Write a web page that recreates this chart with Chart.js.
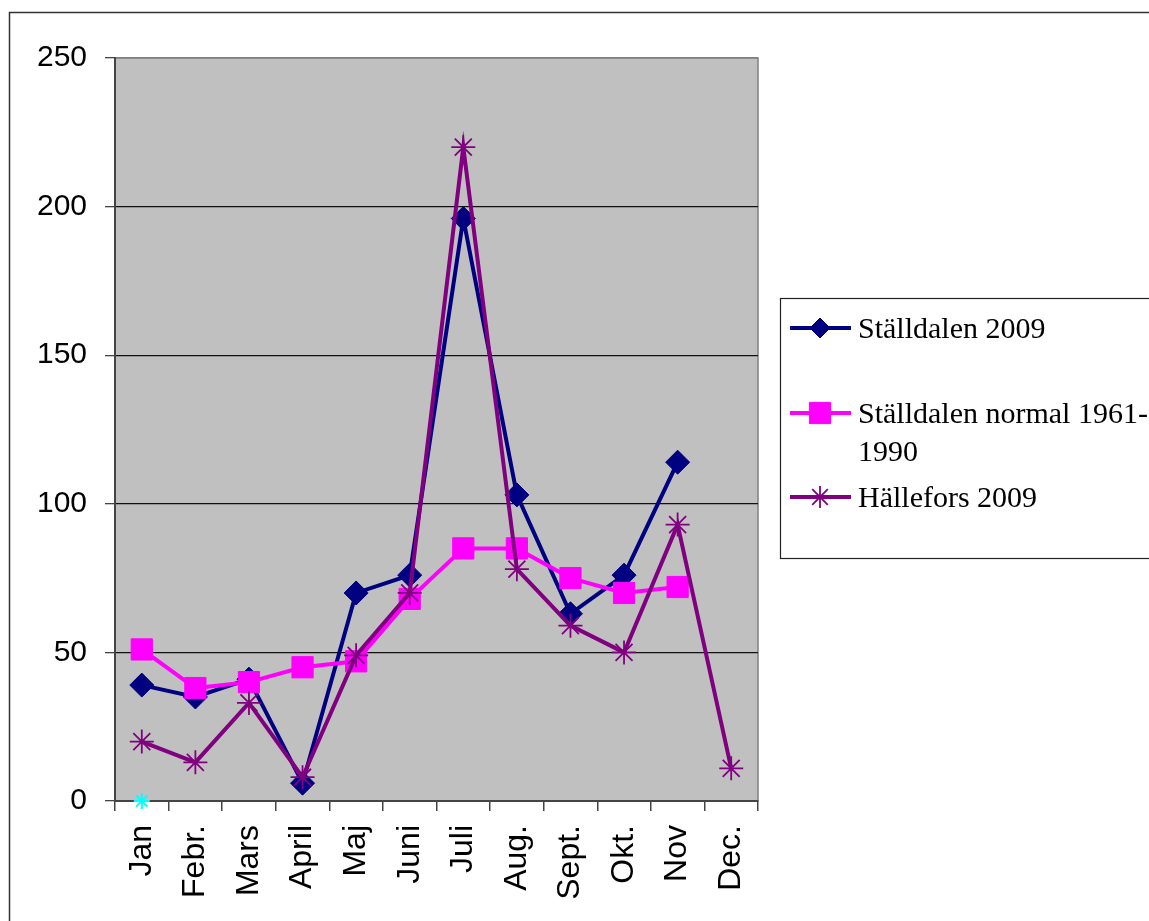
<!DOCTYPE html>
<html lang="sv">
<head>
<meta charset="UTF-8">
<title>Nederbörd 2009</title>
<script src="https://cdn.jsdelivr.net/npm/chart.js"></script>
<style>
  body { margin: 0; background: #fff; }
  #wrap { position: relative; width: 1149px; height: 921px; }
</style>
</head>
<body>
<div id="wrap"><canvas id="myChart"></canvas></div>
<script>
// manader
const months = ['Jan', 'Febr.', 'Mars', 'April', 'Maj', 'Juni', 'Juli', 'Aug.', 'Sept.', 'Okt.', 'Nov', 'Dec.'];

// nederbord (mm), avlast fran bilden
const stalldalen2009 = [39, 35, 41, 6, 70, 76, 196, 103, 63, 76, 114, null];
const stalldalenNormal = [51, 38, 40, 45, 47, 68, 85, 85, 75, 70, 72, null];
const hallefors2009 = [20, 13, 33, 8, 49, 70, 220, 78, 59, 50, 93, 11];
const extraSerie = [0, null, null, null, null, null, null, null, null, null, null, null];

const yTicks = [0, 50, 100, 150, 200, 250];

// grå plotyta + ram runt hela diagrammet
const bakgrund = {
  id: 'bakgrund',
  beforeDraw(chart) {
    const ctx = chart.ctx, a = chart.chartArea;
    ctx.save();
    ctx.strokeStyle = '#333';
    ctx.lineWidth = 1.5;
    ctx.strokeRect(9.5, 12.5, 1300, 1100);
    ctx.fillStyle = '#C0C0C0';
    ctx.fillRect(a.left, a.top, a.right - a.left, a.bottom - a.top);
    ctx.strokeStyle = '#808080';
    ctx.lineWidth = 1.5;
    ctx.strokeRect(a.left, a.top, a.right - a.left, a.bottom - a.top);
    ctx.restore();
  }
};

// egen legend i en ruta till höger
const legendRuta = {
  id: 'legendRuta',
  afterDraw(chart) {
    const ctx = chart.ctx;
    ctx.save();
    ctx.strokeStyle = '#222';
    ctx.lineWidth = 1.2;
    ctx.strokeRect(780.5, 298.5, 500, 260);
    const rader = [328, 413, 497];
    ctx.font = '30px "Liberation Serif", "Times New Roman", serif';
    ctx.textBaseline = 'middle';
    chart.data.datasets.slice(0, 3).forEach((ds, i) => {
      const y = rader[i];
      ctx.strokeStyle = ds.borderColor;
      ctx.lineWidth = ds.borderWidth;
      ctx.beginPath();
      ctx.moveTo(790, y);
      ctx.lineTo(851, y);
      ctx.stroke();
      ctx.fillStyle = ds.pointBackgroundColor;
      ctx.strokeStyle = ds.pointBorderColor;
      ctx.lineWidth = ds.pointBorderWidth;
      Chart.helpers.drawPoint(ctx, {
        pointStyle: ds.pointStyle,
        radius: ds.legendRadius,
        rotation: 0,
        borderWidth: ds.pointBorderWidth
      }, 820, y);
      ctx.fillStyle = '#000';
      ds.label.split('\n').forEach((t, j) => {
        ctx.fillText(t, 858, y + 2 + j * 38);
      });
    });
    ctx.restore();
  }
};

const ctx = document.getElementById('myChart').getContext('2d');
const chart = new Chart(ctx, {
  type: 'line',
  data: {
    labels: months,
    datasets: [{
      label: 'Ställdalen 2009',
      data: stalldalen2009,
      borderColor: '#000080',
      backgroundColor: '#000080',
      pointBackgroundColor: '#000080',
      pointBorderColor: '#000080',
      borderWidth: 4,
      pointStyle: 'rectRot',
      pointRadius: 12,
      legendRadius: 10,
      pointBorderWidth: 1,
      order: 4
    }, {
      label: 'Ställdalen normal 1961-\n1990',
      data: stalldalenNormal,
      borderColor: '#FF00FF',
      backgroundColor: '#FF00FF',
      pointBackgroundColor: '#FF00FF',
      pointBorderColor: '#FF00FF',
      borderWidth: 4,
      pointStyle: 'rect',
      pointRadius: 15,
      legendRadius: 15,
      pointBorderWidth: 1,
      order: 3
    }, {
      label: 'Hällefors 2009',
      data: hallefors2009,
      borderColor: '#800080',
      backgroundColor: '#800080',
      pointBackgroundColor: '#800080',
      pointBorderColor: '#800080',
      borderWidth: 4,
      pointStyle: 'star',
      pointRadius: 12,
      legendRadius: 11,
      pointBorderWidth: 1.8,
      order: 2
    }, {
      label: '',
      data: extraSerie,
      borderColor: '#00FFFF',
      backgroundColor: '#00FFFF',
      pointBackgroundColor: '#00FFFF',
      pointBorderColor: '#00FFFF',
      showLine: false,
      clip: false,
      pointStyle: 'star',
      pointRadius: 8,
      pointBorderWidth: 2,
      order: 1
    }]
  },
  options: {
    responsive: true,
    maintainAspectRatio: false,
    animation: false,
    layout: { padding: { top: 58, right: 391, bottom: 0, left: 0 } },
    elements: { line: { tension: 0 } },
    plugins: {
      legend: { display: false },
      tooltip: { enabled: false }
    },
    scales: {
      x: {
        offset: true,
        afterFit(scale) { scale.height = 120; },
        grid: {
          offset: true,
          drawOnChartArea: false,
          drawTicks: true,
          tickLength: 10,
          color: '#444',
          lineWidth: 1.5
        },
        border: { color: '#444', width: 2 },
        ticks: {
          color: '#000',
          minRotation: 90,
          maxRotation: 90,
          padding: 14,
          autoSkip: false,
          font: { family: '"Liberation Sans", Arial, sans-serif', size: 32 }
        }
      },
      y: {
        min: 0,
        max: 250,
        afterFit(scale) { scale.width = 115; },
        afterBuildTicks(scale) { scale.ticks = yTicks.map(v => ({ value: v })); },
        grid: {
          color: c => (c.tick && c.tick.value === 250 ? '#808080' : '#111'),
          lineWidth: 1.3,
          tickLength: 10,
          tickColor: '#444'
        },
        border: { color: '#444', width: 2 },
        ticks: {
          color: '#000',
          padding: 18,
          font: { family: '"Liberation Sans", Arial, sans-serif', size: 30 }
        }
      }
    }
  },
  plugins: [bakgrund, legendRuta]
});
</script>
</body>
</html>
